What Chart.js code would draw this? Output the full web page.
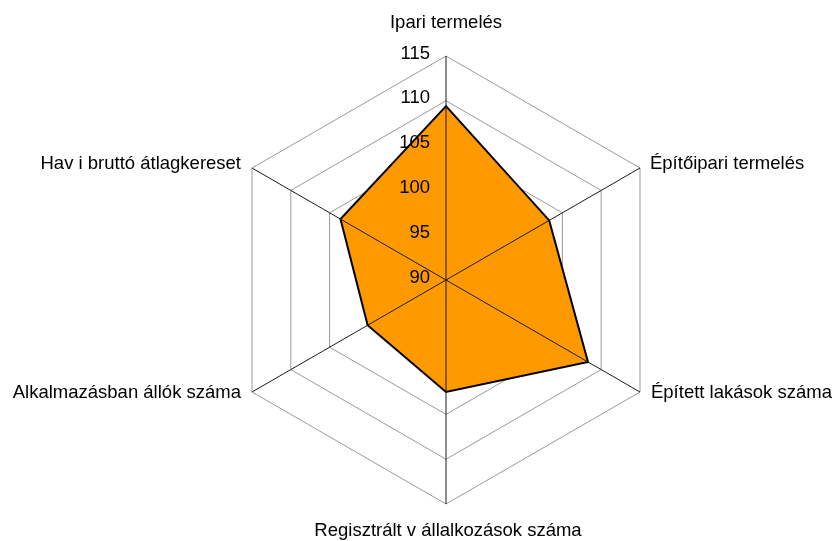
<!DOCTYPE html>
<html>
<head>
<meta charset="utf-8">
<script src="https://cdn.jsdelivr.net/npm/chart.js@4.4.1/dist/chart.umd.min.js"></script>
<style>
html,body{margin:0;padding:0;background:#fff;}
#wrap{width:832px;height:541px;}
</style>
</head>
<body>
<div id="wrap"><canvas id="c" width="832" height="541"></canvas></div>
<script>
const categories = [
  "Ipari termelés",
  "Építőipari termelés",
  "Épített lakások száma",
  "Regisztrált v állalkozások száma",
  "Alkalmazásban állók száma",
  "Hav i bruttó átlagkereset"
];
const values = [109.4, 103.3, 108.3, 102.5, 100.1, 103.6];
const scaleMin = 90;
const scaleMax = 115;
const scaleStep = 5;

const FONT = '18.5px "Liberation Sans", Arial, sans-serif';

const overlay = {
  id: 'overlay',
  afterDatasetsDraw(chart) {
    const s = chart.scales.r;
    const ctx = chart.ctx;
    const n = chart.data.labels.length;
    ctx.save();
    // spokes drawn above the filled area
    ctx.strokeStyle = '#1a1a1a';
    ctx.lineWidth = 1;
    for (let i = 0; i < n; i++) {
      const p = s.getPointPosition(i, s.drawingArea);
      ctx.beginPath();
      ctx.moveTo(s.xCenter, s.yCenter);
      ctx.lineTo(p.x, p.y);
      ctx.stroke();
    }
    // tick labels
    ctx.font = FONT;
    ctx.fillStyle = '#000';
    ctx.textAlign = 'right';
    ctx.textBaseline = 'middle';
    s.ticks.forEach(t => {
      const d = s.getDistanceFromCenterForValue(t.value);
      ctx.fillText(t.label, s.xCenter - 16, s.yCenter - d - 2.5);
    });
    // point labels
    const labs = chart.data.labels;
    const place = [
      {dx: 0, dy: -28, align: 'center', base: 'alphabetic'},
      {dx: 10, dy: 0.5, align: 'left', base: 'alphabetic'},
      {dx: 11, dy: 1, align: 'left', base: 'middle'},
      {dx: 2, dy: 31.5, align: 'center', base: 'alphabetic'},
      {dx: -11, dy: 1, align: 'right', base: 'middle'},
      {dx: -11, dy: 0.5, align: 'right', base: 'alphabetic'}
    ];
    for (let i = 0; i < n; i++) {
      const p = s.getPointPosition(i, s.drawingArea);
      const pl = place[i];
      ctx.textAlign = pl.align;
      ctx.textBaseline = pl.base;
      ctx.fillText(labs[i], p.x + pl.dx, p.y + pl.dy);
    }
    ctx.restore();
  }
};

new Chart(document.getElementById('c'), {
  type: 'radar',
  data: {
    labels: categories,
    datasets: [{
      data: values,
      backgroundColor: '#FF9900',
      borderColor: '#000000',
      borderWidth: 2,
      pointRadius: 0,
      fill: true,
      tension: 0
    }]
  },
  options: {
    responsive: false,
    devicePixelRatio: 1,
    animation: false,
    layout: {padding: {left: 222, right: 162, top: 56, bottom: 37}},
    plugins: {legend: {display: false}, tooltip: {enabled: false}},
    scales: {
      r: {
        min: scaleMin,
        max: scaleMax,
        beginAtZero: false,
        ticks: {stepSize: scaleStep, display: false},
        grid: {color: '#999999', lineWidth: 1},
        angleLines: {display: false},
        pointLabels: {display: false}
      }
    }
  },
  plugins: [overlay]
});
</script>
</body>
</html>
